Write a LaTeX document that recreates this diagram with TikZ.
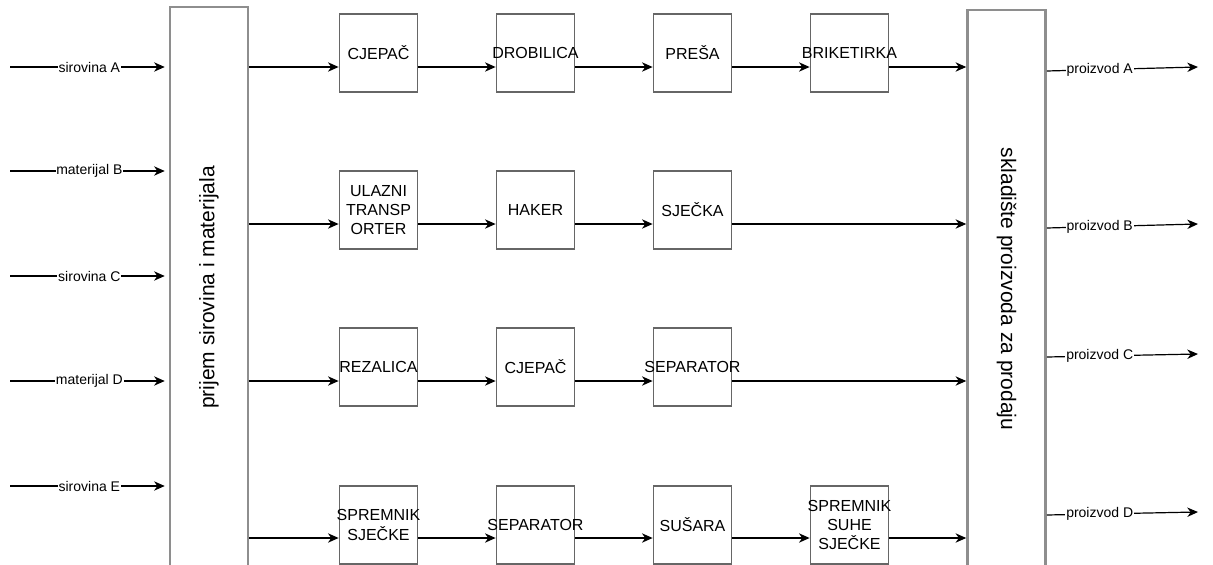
\documentclass[tikz,border=0pt]{standalone}
\usepackage{fontspec}
\setmainfont{Liberation Sans}
\usepackage{graphicx}
\usetikzlibrary{arrows.meta}
\definecolor{fdLine}{HTML}{666666}
\definecolor{fdFrame}{HTML}{8E8E8E}
\tikzset{
  machinetext/.style={
    align=center,
    inner sep=0pt,
    font=\fontsize{12}{14.5}\selectfont
  },
  machine/.style={
    draw=fdLine,
    line width=1.3pt,
    fill=white,
    minimum width=58.5pt,
    minimum height=58.5pt,
    inner sep=0pt,
    label={[machinetext]center:{#1}}
  },
  store/.style={
    draw=fdFrame,
    line width=1.9pt,
    fill=white,
    minimum width=58.5pt,
    inner sep=0pt,
    font=\fontsize{15.75}{18}\selectfont
  },
  flowlabel/.style={fill=white, inner sep=0.6pt, font=\fontsize{10.5}{12}\selectfont},
  arrow/.style={-{Stealth[length=8pt,width=7pt,inset=2.5pt]}, line width=0.9pt, draw=black}
}

\begin{document}
\begin{tikzpicture}[x=0.75pt,y=-0.75pt]
\useasboundingbox (0,0) rectangle (1213,564);

% --------------------------------------------------------------------------
% Coordinates
% --------------------------------------------------------------------------
\coordinate (row1) at (0,67);
\coordinate (row2) at (0,224);
\coordinate (row3) at (0,381);
\coordinate (row4) at (0,538);

\coordinate (inA) at (10,67);
\coordinate (inB) at (10,171);
\coordinate (inC) at (10,276);
\coordinate (inD) at (10,381);
\coordinate (inE) at (10,486);

\coordinate (outA) at (1198,67);
\coordinate (outB) at (1198,224);
\coordinate (outC) at (1198,354);
\coordinate (outD) at (1198,512);

% --------------------------------------------------------------------------
% Reception and storage
% --------------------------------------------------------------------------
\node[store, minimum height=420.75pt] (prijem) at (209,287.5) {\rotatebox{90}{prijem sirovina i materijala}};
\node[store, minimum height=418.5pt] (skladiste) at (1006.5,289) {\rotatebox{-90}{skladište proizvoda za prodaju}};

% --------------------------------------------------------------------------
% Processing lines
% --------------------------------------------------------------------------
\node[machine={CJEPAČ}] (cjepac1) at (378.5,53) {};
\node[machine={DROBILICA}] (drobilica) at (535.5,53) {};
\node[machine={PREŠA}] (presa) at (692.5,53) {};
\node[machine={BRIKETIRKA}] (briketirka) at (849.5,53) {};

\node[machine={ULAZNI\\TRANSP\\ORTER}] (ulazni) at (378.5,210) {};
\node[machine={HAKER}] (haker) at (535.5,210) {};
\node[machine={SJEČKA}] (sjecka) at (692.5,210) {};

\node[machine={REZALICA}] (rezalica) at (378.5,367) {};
\node[machine={CJEPAČ}] (cjepac2) at (535.5,367) {};
\node[machine={SEPARATOR}] (separator1) at (692.5,367) {};

\node[machine={SPREMNIK\\SJEČKE}] (spremnik) at (378.5,525) {};
\node[machine={SEPARATOR}] (separator2) at (535.5,525) {};
\node[machine={SUŠARA}] (susara) at (692.5,525) {};
\node[machine={SPREMNIK\\SUHE\\SJEČKE}] (spremniksuhe) at (849.5,525) {};

% --------------------------------------------------------------------------
% Inputs
% --------------------------------------------------------------------------
\draw[arrow, shorten >=3pt] (inA) -- node[flowlabel] {sirovina A} (prijem.west |- inA);
\draw[arrow, shorten >=3pt] (inB) -- node[flowlabel] {materijal B} (prijem.west |- inB);
\draw[arrow, shorten >=3pt] (inC) -- node[flowlabel] {sirovina C} (prijem.west |- inC);
\draw[arrow, shorten >=3pt] (inD) -- node[flowlabel] {materijal D} (prijem.west |- inD);
\draw[arrow, shorten >=3pt] (inE) -- node[flowlabel] {sirovina E} (prijem.west |- inE);

% --------------------------------------------------------------------------
% Line connections
% --------------------------------------------------------------------------
\draw[arrow] (prijem.east |- row1) -- (cjepac1.west |- row1);
\draw[arrow] (cjepac1.east |- row1) -- (drobilica.west |- row1);
\draw[arrow] (drobilica.east |- row1) -- (presa.west |- row1);
\draw[arrow] (presa.east |- row1) -- (briketirka.west |- row1);
\draw[arrow] (briketirka.east |- row1) -- (skladiste.west |- row1);

\draw[arrow] (prijem.east |- row2) -- (ulazni.west |- row2);
\draw[arrow] (ulazni.east |- row2) -- (haker.west |- row2);
\draw[arrow] (haker.east |- row2) -- (sjecka.west |- row2);
\draw[arrow] (sjecka.east |- row2) -- (skladiste.west |- row2);

\draw[arrow] (prijem.east |- row3) -- (rezalica.west |- row3);
\draw[arrow] (rezalica.east |- row3) -- (cjepac2.west |- row3);
\draw[arrow] (cjepac2.east |- row3) -- (separator1.west |- row3);
\draw[arrow] (separator1.east |- row3) -- (skladiste.west |- row3);

\draw[arrow] (prijem.east |- row4) -- (spremnik.west |- row4);
\draw[arrow] (spremnik.east |- row4) -- (separator2.west |- row4);
\draw[arrow] (separator2.east |- row4) -- (susara.west |- row4);
\draw[arrow] (susara.east |- row4) -- (spremniksuhe.west |- row4);
\draw[arrow] (spremniksuhe.east |- row4) -- (skladiste.west |- row4);

% --------------------------------------------------------------------------
% Products
% --------------------------------------------------------------------------
\draw[arrow] (skladiste.east |- 0,71) -- node[flowlabel, pos=0.35] {proizvod A} (outA);
\draw[arrow] (skladiste.east |- 0,228) -- node[flowlabel, pos=0.35] {proizvod B} (outB);
\draw[arrow] (skladiste.east |- 0,357) -- node[flowlabel, pos=0.35] {proizvod C} (outC);
\draw[arrow] (skladiste.east |- 0,515) -- node[flowlabel, pos=0.35] {proizvod D} (outD);

\end{tikzpicture}
\end{document}
